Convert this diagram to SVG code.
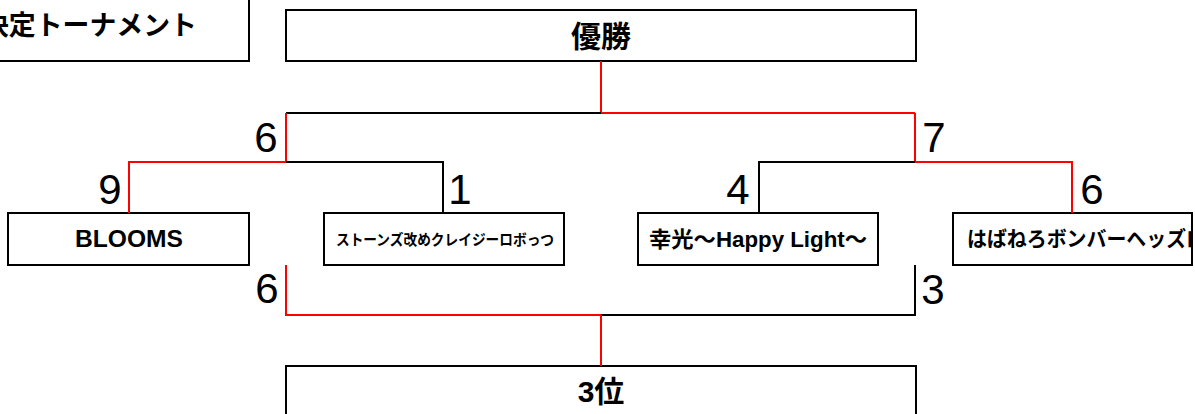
<svg xmlns="http://www.w3.org/2000/svg" width="1195" height="414" viewBox="0 0 1195 414">
<style>
.box{fill:#fff;stroke:#000;stroke-width:2}
.jp{font-family:"Noto Sans CJK JP","Liberation Sans",sans-serif;font-weight:bold;fill:#000}
.lt{font-family:"Liberation Sans","Noto Sans CJK JP",sans-serif;font-weight:bold;fill:#000}
.num{font-family:"Liberation Sans",sans-serif;font-size:42px;fill:#000;text-anchor:middle}
.bk{stroke:#000;stroke-width:2;fill:none}
.rd{stroke:#ff0000;stroke-width:2;fill:none}
</style>
<defs>
<clipPath id="clipR"><rect x="953" y="213" width="238" height="52"/></clipPath>
</defs>
<rect width="1195" height="414" fill="#fff"/>
<g id="title">
<rect class="box" x="-20" y="-5" width="269" height="66"/>
<text class="jp" x="-18" y="35" font-size="27" textLength="215" lengthAdjust="spacingAndGlyphs">決定トーナメント</text>
</g>
<g id="winner">
<rect class="box" x="286" y="10" width="630" height="51"/>
<text class="jp" x="601" y="47" font-size="30" text-anchor="middle">優勝</text>
</g>
<g id="third">
<rect class="box" x="286" y="366" width="630" height="52"/>
<text class="lt" x="601" y="402" font-size="30" text-anchor="middle">3位</text>
</g>
<g id="team1">
<rect class="box" x="8" y="213" width="241" height="52"/>
<text class="lt" x="75" y="247" font-size="23" textLength="108" lengthAdjust="spacingAndGlyphs">BLOOMS</text>
</g>
<g id="team2">
<rect class="box" x="324" y="213" width="240" height="52"/>
<text class="jp" x="336" y="245" font-size="15" textLength="218" lengthAdjust="spacingAndGlyphs">ストーンズ改めクレイジーロボっつ</text>
</g>
<g id="team3">
<rect class="box" x="638" y="213" width="240" height="52"/>
<text class="lt" x="649" y="247" font-size="22" textLength="218" lengthAdjust="spacingAndGlyphs">幸光〜Happy Light〜</text>
</g>
<g id="team4">
<rect class="box" x="953" y="213" width="239" height="52"/>
<g clip-path="url(#clipR)">
<text class="jp" x="967" y="246" font-size="21" textLength="239" lengthAdjust="spacingAndGlyphs">はばねろボンバーヘッズロ</text>
</g>
</g>
<g id="connectors">
<path class="rd" d="M601 61V113"/>
<path class="bk" d="M286 113H601"/>
<path class="rd" d="M601 113H915"/>
<path class="rd" d="M286 113V162"/>
<path class="rd" d="M915 113V162"/>
<path class="rd" d="M129 213V162H286"/>
<path class="bk" d="M286 162H443V213"/>
<path class="bk" d="M759 213V162H915"/>
<path class="rd" d="M915 162H1072V213"/>
<path class="rd" d="M286 265V315H601"/>
<path class="bk" d="M601 315H915V265"/>
<path class="rd" d="M601 315V366"/>
</g>
<g id="scores">
<text class="num" x="266" y="152">6</text>
<text class="num" x="934" y="152">7</text>
<text class="num" x="110" y="204">9</text>
<text class="num" x="460" y="204">1</text>
<text class="num" x="738" y="204">4</text>
<text class="num" x="1092" y="204">6</text>
<text class="num" x="267" y="303">6</text>
<text class="num" x="933" y="304">3</text>
</g>
</svg>
